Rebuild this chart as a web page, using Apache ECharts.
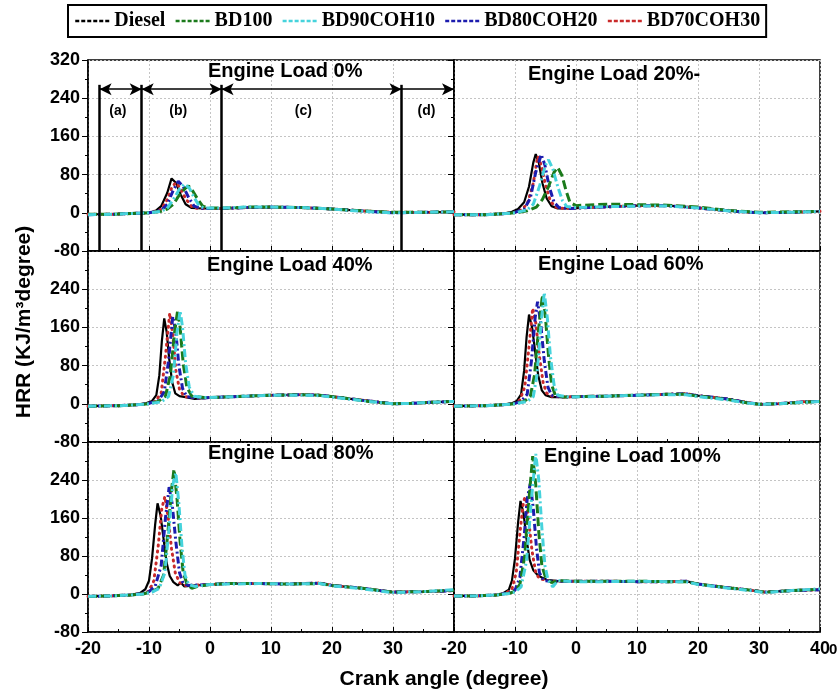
<!DOCTYPE html>
<html><head><meta charset="utf-8">
<script src="https://cdn.jsdelivr.net/npm/echarts@6/dist/echarts.min.js"></script>
<style>html,body{margin:0;padding:0;background:#fff}#c{width:839px;height:691px}</style>
</head><body><div id="c"></div><script>
// ---------- labels ----------
const seriesNames = ['Diesel','BD100','BD90COH10','BD80COH20','BD70COH30'];
const panelTitles = ['Engine Load 0%','Engine Load 20%-','Engine Load 40%','Engine Load 60%','Engine Load 80%','Engine Load 100%'];
const xRange = [-20, 40]; const xStep = 10;
const yRange = [-80, 320]; const yStep = 80;
const phaseLabels = ['(a)','(b)','(c)','(d)'];
const phaseBounds = [-18.1, -11.2, 1.9, 31.4];
const phaseLabelX = [-15.1, -5.2, 15.3, 35.5];
const phaseLabelY = 212, phaseArrowY = 259, phaseLineTop = 268;

// ---------- data: [crank angle, HRR] ----------
// Load 0%
const L0_Diesel = [[-20,-3],[-16,-3],[-12,-1],[-10,0],[-9,3],[-8,14],[-7,42],[-6.3,72],[-5.6,63],[-4.8,38],[-4,18],[-3,10],[-1,9],[2,9],[6,11],[10,12],[15,11],[20,8],[25,4],[30,1],[35,1],[40,2]];
const L0_BD100 = [[-20,-3],[-16,-3],[-12,-1],[-10,0],[-8,3],[-7,8],[-6,18],[-5,38],[-4,52],[-3.5,56],[-2.8,45],[-2,28],[-1.2,14],[0,10],[3,10],[6,12],[10,12],[15,11],[20,8],[25,4],[30,1],[35,1],[40,2]];
const L0_BD90 = [[-20,-4],[-16,-3],[-12,-1],[-10,0],[-8,3],[-7,10],[-6,28],[-5,50],[-4.2,60],[-3.4,52],[-2.6,32],[-1.8,15],[-1,10],[2,10],[6,12],[10,12],[15,11],[20,8],[25,3],[30,0],[35,1],[40,2]];
const L0_BD80 = [[-20,-4],[-16,-3],[-12,-1],[-10,0],[-8,5],[-7,18],[-6,48],[-5.2,66],[-4.4,55],[-3.5,32],[-2.6,14],[-1.5,9],[2,9],[6,11],[10,12],[15,11],[20,8],[25,4],[30,0],[35,1],[40,2]];
const L0_BD70 = [[-20,-3],[-16,-3],[-12,-1],[-10,0],[-8,7],[-7,28],[-6.2,55],[-5.6,63],[-4.9,52],[-4,30],[-3,13],[-2,9],[2,9],[6,11],[10,12],[15,11],[20,8],[25,4],[30,1],[35,1],[40,2]];
// Load 20%
const L20_Diesel = [[-20,-4],[-15,-4],[-12,-2],[-10.5,2],[-9.5,8],[-8.5,22],[-7.7,55],[-7,105],[-6.6,123],[-6.1,105],[-5.5,62],[-4.8,30],[-4,14],[-3,9],[-1,9],[2,11],[6,13],[10,15],[15,15],[20,11],[25,5],[30,0],[35,1],[40,3]];
const L20_BD100 = [[-20,-4],[-15,-4],[-12,-2],[-10,0],[-8,4],[-6.5,12],[-5.5,28],[-4.5,55],[-3.6,85],[-3,95],[-2.3,78],[-1.6,45],[-1,22],[0,15],[3,17],[6,18],[10,17],[15,16],[20,12],[25,5],[30,1],[35,2],[40,3]];
const L20_BD90 = [[-20,-4],[-15,-4],[-12,-2],[-10,0],[-8,6],[-7,18],[-6,55],[-5,100],[-4.5,111],[-3.8,92],[-3,55],[-2.2,25],[-1.5,13],[0,11],[3,12],[6,13],[10,14],[15,14],[20,10],[25,4],[30,0],[35,1],[40,3]];
const L20_BD80 = [[-20,-4],[-15,-4],[-12,-2],[-10,1],[-8.5,8],[-7.5,30],[-6.6,85],[-5.7,122],[-5.1,100],[-4.4,55],[-3.6,22],[-2.8,11],[-1,9],[2,11],[6,13],[10,15],[15,15],[20,10],[25,4],[30,0],[35,1],[40,3]];
const L20_BD70 = [[-20,-4],[-15,-4],[-12,-2],[-10,1],[-9,6],[-8,18],[-7,62],[-6.3,118],[-5.7,100],[-5,58],[-4.2,25],[-3.4,12],[-2,9],[2,11],[6,13],[10,15],[15,15],[20,10],[25,4],[30,0],[35,1],[40,3]];
// Load 40%
const L40_Diesel = [[-20,-5],[-15,-4],[-12,-2],[-10.5,1],[-9.5,6],[-8.8,18],[-8.3,60],[-7.9,130],[-7.5,179],[-7.1,150],[-6.7,95],[-6.2,45],[-5.7,22],[-5,16],[-4,14],[-2.5,10],[-1,12],[2,14],[6,16],[10,18],[15,19],[18,18],[22,12],[26,6],[30,0],[33,1],[36,3],[40,5]];
const L40_BD100 = [[-20,-5],[-15,-4],[-12,-2],[-10,0],[-8.5,5],[-7.3,16],[-6.5,60],[-5.8,150],[-5.3,196],[-4.9,160],[-4.4,85],[-3.8,35],[-3,16],[-1,13],[2,14],[6,16],[10,18],[15,19],[18,18],[22,12],[26,5],[30,0],[33,1],[36,3],[40,5]];
const L40_BD90 = [[-20,-5],[-15,-4],[-12,-2],[-10,0],[-8,4],[-6.8,15],[-6,60],[-5.4,150],[-4.9,195],[-4.5,160],[-4,85],[-3.4,35],[-2.6,16],[-1,13],[2,14],[6,16],[10,18],[15,18],[18,17],[22,11],[26,5],[30,0],[33,1],[36,3],[40,5]];
const L40_BD80 = [[-20,-5],[-15,-4],[-12,-2],[-10,1],[-8.5,6],[-7.5,25],[-6.8,90],[-6.1,183],[-5.6,150],[-5.1,80],[-4.5,32],[-3.8,15],[-2,12],[2,14],[6,16],[10,18],[15,19],[18,18],[22,12],[26,6],[30,0],[33,1],[36,3],[40,5]];
const L40_BD70 = [[-20,-5],[-15,-4],[-12,-2],[-10,1],[-9,5],[-8,22],[-7.3,100],[-6.6,190],[-6.1,145],[-5.6,70],[-5,30],[-4.2,15],[-2,12],[2,14],[6,16],[10,18],[15,19],[18,18],[22,12],[26,6],[30,0],[33,1],[36,3],[40,5]];
// Load 60%
const L60_Diesel = [[-20,-5],[-15,-4],[-12,-2],[-10.5,1],[-9.7,6],[-9,20],[-8.5,70],[-8.1,140],[-7.7,187],[-7.2,160],[-6.7,110],[-6.2,60],[-5.6,28],[-5,18],[-4,14],[-2,14],[0,15],[5,16],[10,18],[15,20],[18,21],[20,17],[25,10],[28,3],[30,-1],[33,0],[37,4],[40,5]];
const L60_BD100 = [[-20,-5],[-15,-4],[-12,-2],[-10,0],[-8.5,5],[-7.5,15],[-6.8,60],[-6.1,160],[-5.5,228],[-5,180],[-4.5,100],[-4,40],[-3.4,18],[-2,14],[0,15],[5,16],[10,18],[15,20],[18,20],[20,16],[25,9],[28,2],[30,-1],[33,0],[37,3],[40,5]];
const L60_BD90 = [[-20,-5],[-15,-4],[-12,-2],[-10,0],[-8,5],[-7,15],[-6.4,60],[-5.8,160],[-5.2,233],[-4.7,180],[-4.2,100],[-3.6,40],[-3,18],[-1,14],[2,15],[5,16],[10,18],[15,19],[18,19],[20,15],[25,8],[28,2],[30,-1],[33,0],[37,3],[40,5]];
const L60_BD80 = [[-20,-5],[-15,-4],[-12,-2],[-10,1],[-9,5],[-8,20],[-7.3,90],[-6.7,180],[-6.3,214],[-5.8,170],[-5.2,90],[-4.6,35],[-4,18],[-2,14],[0,15],[5,16],[10,18],[15,20],[18,21],[20,17],[25,10],[28,3],[30,-1],[33,0],[37,4],[40,5]];
const L60_BD70 = [[-20,-5],[-15,-4],[-12,-2],[-10,1],[-9.2,8],[-8.4,35],[-7.7,120],[-7.1,200],[-6.6,170],[-6,100],[-5.4,45],[-4.8,22],[-4,16],[-2,14],[0,15],[5,16],[10,18],[15,20],[18,21],[20,17],[25,10],[28,3],[30,-1],[33,0],[37,4],[40,5]];
// Load 80%
const L80_Diesel = [[-20,-5],[-16,-4],[-13,-2],[-11.5,2],[-10.6,10],[-10,28],[-9.5,75],[-9,145],[-8.6,191],[-8.1,165],[-7.6,115],[-7.1,65],[-6.6,38],[-6,25],[-5.3,18],[-4.8,24],[-4.2,16],[-2.5,18],[0,20],[3,22],[8,22],[13,21],[18,23],[20,18],[25,12],[28,7],[30,4],[35,5],[40,7]];
const L80_BD100 = [[-20,-5],[-16,-4],[-13,-2],[-11,0],[-9.5,5],[-8.5,12],[-7.6,40],[-6.9,130],[-6.3,220],[-5.9,263],[-5.4,200],[-4.9,110],[-4.4,45],[-3.8,22],[-3,12],[-2,16],[0,20],[3,22],[8,22],[13,21],[18,22],[20,18],[25,12],[28,7],[30,4],[35,5],[40,8]];
const L80_BD90 = [[-20,-5],[-16,-4],[-13,-2],[-11,0],[-9.5,4],[-8.3,12],[-7.4,45],[-6.7,140],[-6.1,230],[-5.6,255],[-5.1,190],[-4.6,100],[-4.1,40],[-3.5,20],[-2.5,16],[0,20],[3,21],[8,22],[13,21],[18,22],[20,17],[25,11],[28,6],[30,3],[35,5],[40,9]];
const L80_BD80 = [[-20,-5],[-16,-4],[-13,-2],[-11,1],[-10,5],[-9,16],[-8,60],[-7.3,160],[-6.7,225],[-6.2,190],[-5.6,110],[-5,45],[-4.4,22],[-3.5,18],[0,20],[3,22],[8,22],[13,21],[18,23],[20,18],[25,12],[28,7],[30,4],[35,5],[40,7]];
const L80_BD70 = [[-20,-5],[-16,-4],[-13,-2],[-11,1],[-10,6],[-9.2,28],[-8.5,100],[-7.9,180],[-7.4,205],[-6.9,165],[-6.3,95],[-5.7,45],[-5,24],[-4,18],[0,20],[3,22],[8,22],[13,21],[18,23],[20,18],[25,12],[28,7],[30,4],[35,5],[40,7]];
// Load 100%
const L100_Diesel = [[-20,-4],[-16,-4],[-13,-2],[-12,1],[-11,9],[-10.5,28],[-10,75],[-9.5,150],[-9.1,196],[-8.6,170],[-8.1,115],[-7.6,72],[-7,50],[-6.3,40],[-5.5,34],[-4.8,30],[-3,27],[0,27],[5,27],[10,26],[15,26],[18,27],[20,21],[25,13],[28,9],[31,4],[35,7],[40,9]];
const L100_BD100 = [[-20,-4],[-16,-4],[-13,-2],[-11,1],[-10,6],[-9.2,20],[-8.4,80],[-7.7,200],[-7.1,290],[-6.6,230],[-6.1,130],[-5.6,60],[-5,35],[-4,24],[-3,28],[0,27],[5,27],[10,27],[15,26],[18,26],[20,21],[25,13],[28,9],[31,4],[35,7],[40,10]];
const L100_BD90 = [[-20,-4],[-16,-4],[-13,-2],[-11,1],[-10,4],[-9,15],[-8.1,70],[-7.3,200],[-6.6,295],[-6.1,240],[-5.6,140],[-5.1,60],[-4.6,30],[-3.8,15],[-3,28],[0,26],[5,26],[10,27],[15,26],[18,26],[20,20],[25,12],[28,8],[31,3],[35,7],[40,11]];
const L100_BD80 = [[-20,-4],[-16,-4],[-13,-2],[-11,2],[-10,8],[-9.2,35],[-8.5,120],[-8,200],[-7.5,232],[-7,180],[-6.5,100],[-6,45],[-5.3,28],[-4,27],[0,27],[5,27],[10,26],[15,26],[18,27],[20,21],[25,13],[28,9],[31,4],[35,7],[40,9]];
const L100_BD70 = [[-20,-4],[-16,-4],[-13,-2],[-11.5,2],[-10.5,10],[-9.8,45],[-9.1,140],[-8.6,195],[-8.3,205],[-7.8,160],[-7.2,90],[-6.6,45],[-6,32],[-4,27],[0,27],[5,27],[10,26],[15,26],[18,27],[20,21],[25,13],[28,9],[31,4],[35,7],[40,9]];

const panels = [
  [L0_Diesel, L0_BD100, L0_BD90, L0_BD80, L0_BD70],
  [L20_Diesel, L20_BD100, L20_BD90, L20_BD80, L20_BD70],
  [L40_Diesel, L40_BD100, L40_BD90, L40_BD80, L40_BD70],
  [L60_Diesel, L60_BD100, L60_BD90, L60_BD80, L60_BD70],
  [L80_Diesel, L80_BD100, L80_BD90, L80_BD80, L80_BD70],
  [L100_Diesel, L100_BD100, L100_BD90, L100_BD80, L100_BD70]
];

// ---------- styles ----------
const SANS = "'Liberation Sans', Arial, sans-serif";
const SERIF = "'Liberation Serif', 'Times New Roman', serif";
const styles = [
  {color:'#000000', width:2.2, type:'solid'},
  {color:'#1b7a1b', width:3, type:[9,4]},
  {color:'#46d3dc', width:3, type:[8,3,2,3]},
  {color:'#1c1cae', width:3, type:[7,3,2,3]},
  {color:'#c92a2a', width:3, type:[1,5], cap:'round'}
];
const drawOrder = [0, 4, 3, 1, 2];
const gridPos = [
  {left:88, top:60, width:366, height:191},
  {left:454, top:60, width:366, height:191},
  {left:88, top:251, width:366, height:191},
  {left:454, top:251, width:366, height:191},
  {left:88, top:442, width:366, height:190},
  {left:454, top:442, width:366, height:190}
];
const titlePos = [[208,61],[528,64],[207,255],[538,254],[208,443],[544,446]];

const grids = gridPos.map(g => Object.assign({show:true, borderColor:'#000', borderWidth:1.5, backgroundColor:'transparent'}, g));
const xAxes = gridPos.map((g,i) => ({
  type:'value', gridIndex:i, min:xRange[0], max:xRange[1], interval:xStep,
  axisLine:{show:true, onZero:false, lineStyle:{color:'#000', width:1.5}},
  axisTick:{show:true, inside:true, length:5, lineStyle:{color:'#000', width:1}},
  minorTick:{show:true, splitNumber:2, length:3, lineStyle:{color:'#000', width:1}},
  splitLine:{show:true, lineStyle:{color:'#c4c4c4', type:[2,2], width:1}},
  axisLabel:{show:i>=4, showMinLabel:true, showMaxLabel:i===5, fontSize:18, fontWeight:'bold', color:'#000', fontFamily:SANS, margin:8}
}));
const yAxes = gridPos.map((g,i) => ({
  type:'value', gridIndex:i, min:yRange[0], max:yRange[1], interval:yStep,
  axisLine:{show:true, onZero:false, lineStyle:{color:'#000', width:1.5}},
  axisTick:{show:true, inside:false, length:6, lineStyle:{color:'#000', width:1}},
  minorTick:{show:true, splitNumber:2, length:3, lineStyle:{color:'#000', width:1}},
  splitLine:{show:true, lineStyle:{color:'#c4c4c4', type:[2,2], width:1}},
  axisLabel:{show:i%2===0, showMinLabel:true, showMaxLabel:i===0, fontSize:18, fontWeight:'bold', color:'#000', fontFamily:SANS, margin:8}
}));

const series = [];
panels.forEach((p, pi) => {
  drawOrder.forEach(si => {
    series.push({
      type:'line', name:seriesNames[si], xAxisIndex:pi, yAxisIndex:pi,
      data:p[si], symbol:'none', smooth:false, z: 2,
      lineStyle:Object.assign({}, styles[si]),
      itemStyle:{color:styles[si].color}
    });
  });
});

// phase annotations (top-left panel)
series.push({
  type:'line', name:'phaseLines', xAxisIndex:0, yAxisIndex:0, data:[], silent:true,
  markLine:{silent:true, animation:false, symbol:['none','none'], label:{show:false},
    lineStyle:{color:'#000', width:2.5, type:'solid'},
    data: phaseBounds.map(b => [{coord:[b, yRange[0]]},{coord:[b, phaseLineTop]}])
  }
});
const arrowPairs = [];
for (let k = 0; k < phaseBounds.length; k++) {
  const a = phaseBounds[k], b = k + 1 < phaseBounds.length ? phaseBounds[k+1] : xRange[1];
  const last = k + 1 >= phaseBounds.length;
  arrowPairs.push([{coord:[a, phaseArrowY], symbol: last ? 'none' : 'arrow'}, {coord:[b, phaseArrowY], symbol:'arrow'}]);
}
series.push({
  type:'line', name:'phaseArrows', xAxisIndex:0, yAxisIndex:0, data:[], silent:true,
  markLine:{silent:true, animation:false, symbol:['arrow','arrow'], symbolSize:[9,12], label:{show:false},
    lineStyle:{color:'#000', width:1.5, type:'solid'}, data: arrowPairs
  },
  markPoint:{silent:true, animation:false, symbol:'circle', symbolSize:1, itemStyle:{color:'rgba(0,0,0,0)'},
    label:{show:true, position:'inside', color:'#000', fontWeight:'bold', fontSize:14, fontFamily:SANS, formatter: p => p.data.name},
    data: phaseLabels.map((t,k) => ({name:t, coord:[phaseLabelX[k], phaseLabelY]}))
  }
});

const option = {
  animation:false,
  backgroundColor:'#fff',
  title: panelTitles.map((t,i) => ({text:t, left:titlePos[i][0], top:titlePos[i][1], padding:0,
    textStyle:{fontSize:20, fontWeight:'bold', color:'#000', fontFamily:SANS}})),
  legend:{
    data: seriesNames, left:68, top:5, orient:'horizontal',
    itemWidth:34, itemHeight:12, itemGap:9,
    borderColor:'#000', borderWidth:2, padding:[6,6,6,6],
    lineStyle:{type:[4,2], width:2.5, cap:'butt'},
    itemStyle:{color:'rgba(0,0,0,0)', borderWidth:0, opacity:0},
    textStyle:{fontFamily:SERIF, fontWeight:'bold', fontSize:20, color:'#000', padding:[0,0,0,0]},
    selectedMode:false
  },
  grid: grids, xAxis: xAxes, yAxis: yAxes, series: series,
  graphic:[
    {type:'text', x:24, y:322, rotation:Math.PI/2, style:{text:'HRR (KJ/m³degree)', fill:'#000', font:"bold 21px 'Liberation Sans', Arial, sans-serif", textAlign:'center', textVerticalAlign:'middle'}},
    {type:'text', x:444, y:679, style:{text:'Crank angle (degree)', fill:'#000', font:"bold 21px 'Liberation Sans', Arial, sans-serif", textAlign:'center', textVerticalAlign:'middle'}},
    {type:'text', x:829, y:642, style:{text:'0', fill:'#000', font:"bold 15px 'Liberation Sans', Arial, sans-serif"}}
  ]
};
const chart = echarts.init(document.getElementById('c'), null, {renderer:'canvas'});
chart.setOption(option);
</script></body></html>
